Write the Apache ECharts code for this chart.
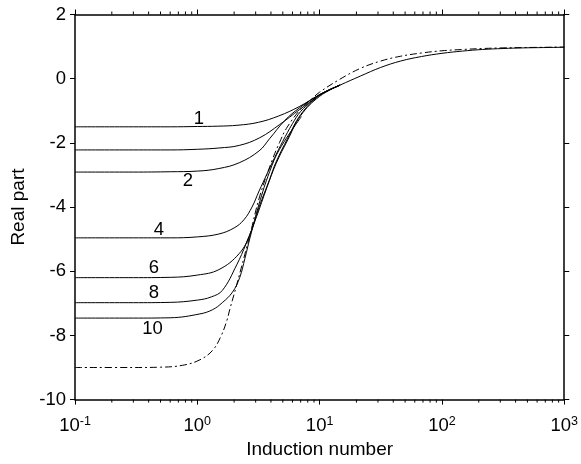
<!DOCTYPE html>
<html><head><meta charset="utf-8">
<script src="https://cdn.jsdelivr.net/npm/echarts@6/dist/echarts.min.js"></script>
<style>html,body{margin:0;padding:0;background:#fff}#c{width:581px;height:464px}</style>
</head><body><div id="c"></div>
<script>
// Data: [induction number, real part]
const curve1 = [[0.1,-1.5],[0.3,-1.5],[0.6,-1.5],[1,-1.49],[1.47,-1.48],[2.15,-1.45],[3.16,-1.36],[4.64,-1.16],[6.81,-0.87],[10,-0.5],[14.7,-0.2],[21.5,0.08],[31.6,0.35],[46,0.55],[68,0.69],[100,0.79],[147,0.86],[215,0.91],[316,0.94],[464,0.96],[681,0.97],[1000,0.98]];
const curveA = [[0.1,-2.22],[0.3,-2.22],[0.6,-2.22],[1,-2.2],[1.5,-2.16],[2.2,-2.08],[3.24,-1.84],[4.71,-1.43],[6.87,-0.96],[8.8,-0.66],[10,-0.5],[14.7,-0.2]];
const curve2 = [[0.1,-2.91],[0.3,-2.91],[0.6,-2.9],[1,-2.88],[1.5,-2.8],[2.2,-2.62],[3.2,-2.25],[3.9,-1.87],[5.2,-1.3],[6.9,-0.9],[10,-0.5],[14.7,-0.2]];
const curve4 = [[0.1,-4.96],[0.3,-4.96],[0.6,-4.96],[1,-4.93],[1.5,-4.84],[2.0,-4.65],[2.4,-4.4],[2.8,-4.0],[3.2,-3.5],[3.7,-2.98],[4.3,-2.45],[5,-1.95],[6,-1.4],[7,-1.02],[8.5,-0.72],[10,-0.5],[14.7,-0.2]];
const curve6 = [[0.1,-6.2],[0.3,-6.2],[0.6,-6.19],[1,-6.12],[1.5,-5.95],[2.2,-5.45],[2.7,-4.85],[3.2,-4.0],[3.9,-3.14],[4.4,-2.6],[5.5,-1.85],[7,-1.12],[10,-0.52],[14.7,-0.2]];
const curve8 = [[0.1,-6.98],[0.3,-6.98],[0.6,-6.97],[1,-6.9],[1.3,-6.8],[1.6,-6.6],[2.1,-5.8],[2.5,-5.15],[3.05,-4.3],[3.7,-3.4],[4.4,-2.65],[5.5,-1.9],[7,-1.15],[10,-0.55],[14.7,-0.2]];
const curve10 = [[0.1,-7.46],[0.3,-7.46],[0.6,-7.45],[1.05,-7.33],[1.33,-7.2],[1.6,-6.98],[1.94,-6.65],[2.22,-6.2],[2.45,-5.6],[2.7,-4.95],[3.2,-3.9],[3.9,-2.9],[4.7,-2.2],[7.1,-1.18]];
const curveLimit = [[0.1,-9.0],[0.3,-9.0],[0.5,-8.99],[0.76,-8.93],[1.05,-8.76],[1.33,-8.47],[1.55,-8.05],[1.74,-7.55],[1.84,-7.2],[2.09,-6.45],[2.68,-4.9],[3.24,-3.66],[4.13,-2.5],[4.7,-1.99],[5.35,-1.55],[7,-0.95],[8.8,-0.6],[10,-0.42],[14.6,-0.02],[21.5,0.32],[31.6,0.55],[46,0.7],[68,0.8],[100,0.87],[147,0.91],[215,0.94],[316,0.96],[464,0.97],[1000,0.985]];
const curveLabels = ['1','2','4','6','8','10'];
const labelX = [1.03,0.836,0.485,0.441,0.441,0.43];
const labelY = [-1.26,-3.2,-4.7,-5.89,-6.68,-7.8];
const xDecades = [0.1,1,10,100,1000];
const minorMult = [2,3,4,5,6,7,8,9];

const minorTicks = [];
for (let i = 0; i < xDecades.length - 1; i++) for (const m of minorMult) minorTicks.push(xDecades[i]*m);

const FONT = 'Liberation Sans, Arial, sans-serif';
const chart = echarts.init(document.getElementById('c'), null, {renderer:'canvas'});
function lineSeries(data, dash) {
  return {type:'line', data:data, xAxisIndex:0, yAxisIndex:0, showSymbol:false, symbol:'none',
    smooth:0.4, silent:true, z:3,
    lineStyle:{color:'#000', width:1, type: dash ? [7,3,2,3] : 'solid'}};
}
const supLabel = v => {
  const e = Math.round(Math.log10(v));
  return '{b|10}{e|' + e + '}';
};
chart.setOption({
  backgroundColor:'#fff',
  animation:false,
  grid:{left:75, right:16, top:14.5, bottom:63, containLabel:false},
  xAxis:[
    {type:'log', logBase:10, min:0.1, max:1000, position:'bottom',
     name:'Induction number', nameLocation:'middle', nameGap:36,
     nameTextStyle:{color:'#000', fontSize:19, fontFamily:FONT},
     axisLine:{onZero:false, lineStyle:{color:'#000', width:1.5}},
     axisTick:{show:true, inside:false, length:5, lineStyle:{color:'#000', width:1}},
     splitLine:{show:false},
     axisLabel:{color:'#000', margin:15, formatter:supLabel,
       rich:{b:{fontSize:18.5, fontFamily:FONT, color:'#000', lineHeight:22},
             e:{fontSize:12.5, fontFamily:FONT, color:'#000', verticalAlign:'top', lineHeight:14}}}},
    {type:'log', logBase:10, min:0.1, max:1000, position:'top',
     axisLine:{onZero:false, lineStyle:{color:'#000', width:1.5}},
     axisTick:{show:true, inside:false, length:5, lineStyle:{color:'#000', width:1}},
     axisLabel:{show:false}, splitLine:{show:false}}
  ],
  yAxis:[
    {type:'value', min:-10, max:2, interval:2, position:'left',
     name:'Real part', nameLocation:'middle', nameGap:45, nameRotate:90,
     nameTextStyle:{color:'#000', fontSize:19, fontFamily:FONT},
     axisLine:{show:true, onZero:false, lineStyle:{color:'#000', width:1.5}},
     axisTick:{show:true, inside:false, length:5, lineStyle:{color:'#000', width:1}},
     splitLine:{show:false},
     axisLabel:{color:'#000', fontSize:18.5, fontFamily:FONT, margin:9}},
    {type:'value', min:-10, max:2, interval:2, position:'right',
     axisLine:{show:true, onZero:false, lineStyle:{color:'#000', width:1.5}},
     axisTick:{show:true, inside:false, length:5, lineStyle:{color:'#000', width:1}},
     axisLabel:{show:false}, splitLine:{show:false}}
  ],
  series:[
    lineSeries(curve1), lineSeries(curveA), lineSeries(curve2), lineSeries(curve4),
    lineSeries(curve6), lineSeries(curve8), lineSeries(curve10), lineSeries(curveLimit, true),
    {type:'scatter', silent:true, symbolSize:0, z:5, itemStyle:{opacity:1, color:'#000'},
     data: curveLabels.map((t,i)=>({value:[labelX[i], labelY[i]], name:t})),
     label:{show:true, position:'inside', formatter:p=>p.name, color:'#000', opacity:1, fontSize:18.5, fontFamily:FONT}},
    {type:'custom', silent:true, clip:false, z:4,
     data: minorTicks.map(v=>[v]),
     renderItem:(params, api)=>{
       const v = api.value(0);
       const b = api.coord([v, -10]);
       const t = api.coord([v, 2]);
       const st = {stroke:'#000', lineWidth:1};
       return {type:'group', children:[
         {type:'line', shape:{x1:b[0], y1:b[1], x2:b[0], y2:b[1]+3}, style:st},
         {type:'line', shape:{x1:t[0], y1:t[1], x2:t[0], y2:t[1]-3}, style:st}
       ]};
     }}
  ]
});
</script></body></html>
